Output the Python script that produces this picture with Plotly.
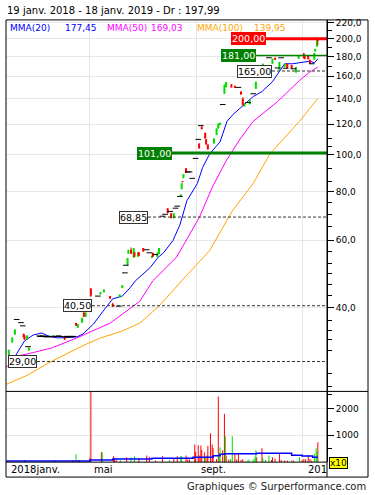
import math
import plotly.graph_objects as go

FIG_W, FIG_H = 375, 495
FONT = "DejaVu Sans"

# ---------------- data ----------------
c_dates = ["2018-01-29", "2018-02-02", "2018-02-05", "2018-02-15", "2018-02-16", "2018-02-19", "2018-02-21",
           "2018-03-21", "2018-04-03", "2018-04-16", "2018-04-18", "2018-04-23", "2018-04-25", "2018-04-27",
           "2018-05-02", "2018-05-03", "2018-05-14", "2018-05-18", "2018-05-25", "2018-05-28", "2018-06-05",
           "2018-06-08", "2018-06-14", "2018-06-15", "2018-06-18", "2018-06-21", "2018-06-22", "2018-06-26",
           "2018-06-27", "2018-07-02", "2018-07-12", "2018-07-13", "2018-07-18", "2018-07-20", "2018-07-30",
           "2018-08-03", "2018-08-06", "2018-08-14", "2018-08-15", "2018-08-16", "2018-08-17", "2018-08-20",
           "2018-09-04", "2018-09-07", "2018-09-11", "2018-09-12", "2018-09-14", "2018-09-21", "2018-09-24",
           "2018-09-26", "2018-09-28", "2018-10-03", "2018-10-05", "2018-10-11", "2018-10-15", "2018-10-22",
           "2018-10-24", "2018-10-26", "2018-11-01", "2018-11-08", "2018-11-16", "2018-11-27", "2018-11-30",
           "2018-12-05", "2018-12-11", "2018-12-14", "2018-12-19", "2018-12-24", "2018-12-27", "2019-01-02",
           "2019-01-03", "2019-01-07", "2019-01-09", "2019-01-14", "2019-01-15", "2019-01-17", "2019-01-18"]
c_open = [30.2, 32.5, 34.1, 34.2, 33.9, 33.1, 31.0, 33.6, 33.6, 36.5,
          35.5, 36.6, 38.9, 37.9, 39.1, 44.9, 43.3, 43.9, 42.9, 41.0,
          42.6, 45.0, 51.6, 55.3, 56.6, 54.0, 55.8, 54.3, 55.8, 57.2,
          53.9, 55.6, 54.3, 55.2, 72.6, 70.4, 68.4, 77.9, 81.3, 85.3,
          86.8, 92.2, 107.0, 118.0, 114.0, 109.6, 106.3, 107.0, 112.5, 117.0,
          119.5, 144.0, 149.8, 152.4, 151.0, 145.9, 139.9, 133.5, 135.2, 148.4,
          167.2, 172.3, 178.6, 166.2, 169.3, 172.3, 171.0, 163.6, 177.5, 183.0,
          180.0, 181.0, 176.4, 176.4, 185.4, 191.0, 200.0]
c_high = [31.1, 33.5, 35.2, 34.3, 33.9, 33.9, 31.5, 34.0, 33.6, 36.6,
          36.3, 37.7, 38.9, 38.9, 40.0, 45.0, 43.9, 44.6, 42.9, 41.2,
          43.3, 45.8, 53.9, 56.6, 57.4, 57.2, 55.8, 55.8, 55.8, 57.2,
          54.6, 55.6, 55.6, 57.2, 72.6, 70.4, 70.4, 78.8, 84.3, 85.3,
          89.0, 92.2, 107.0, 119.0, 114.0, 109.6, 106.3, 110.2, 117.0, 120.6,
          121.0, 152.0, 154.6, 152.4, 151.0, 145.9, 141.0, 136.1, 138.6, 154.7,
          172.3, 177.5, 178.6, 174.2, 172.3, 172.3, 171.0, 169.0, 181.3, 184.0,
          181.0, 181.0, 176.4, 183.7, 188.4, 202.4, 200.5]
c_low = [30.0, 32.5, 34.0, 33.5, 33.0, 33.1, 31.0, 33.6, 33.0, 35.9,
         35.5, 36.6, 37.9, 37.9, 39.1, 42.7, 43.3, 43.9, 42.2, 40.2,
         42.6, 45.0, 51.6, 55.3, 55.3, 54.0, 54.3, 54.3, 54.6, 56.0,
         53.9, 54.3, 54.3, 55.2, 70.4, 68.4, 68.4, 77.9, 81.3, 84.8,
         86.8, 89.6, 103.8, 116.5, 110.2, 106.3, 103.2, 107.0, 112.5, 117.0,
         119.5, 144.0, 149.8, 149.6, 149.0, 143.3, 134.4, 133.5, 135.2, 148.4,
         167.2, 172.3, 176.5, 166.2, 169.3, 168.0, 167.5, 163.6, 177.5, 178.0,
         177.0, 177.0, 172.3, 176.4, 185.4, 191.0, 192.5]
c_close = [31.1, 33.5, 35.1, 33.5, 33.1, 33.9, 31.5, 34.0, 33.1, 35.9,
           36.3, 37.7, 37.9, 38.9, 40.0, 43.0, 43.9, 44.6, 42.2, 40.2,
           43.3, 45.8, 53.9, 56.6, 55.3, 57.2, 54.3, 55.8, 54.6, 56.0,
           54.6, 54.3, 55.6, 57.2, 70.4, 68.4, 70.4, 78.8, 84.3, 84.8,
           89.0, 89.6, 103.8, 116.5, 110.2, 106.3, 103.2, 110.2, 117.0, 120.6,
           121.0, 152.0, 154.6, 149.6, 149.0, 143.3, 134.4, 136.1, 138.6, 154.7,
           172.3, 177.5, 176.5, 174.2, 172.3, 168.0, 167.5, 169.0, 181.3, 178.0,
           177.5, 177.0, 172.3, 183.7, 188.4, 201.0, 197.99]

# unchanged sessions (open = high = low = close), drawn as small black dashes
doji_dates = ["2018-02-07", "2018-02-12", "2018-02-14", "2018-02-20",
              "2018-03-05", "2018-03-06", "2018-03-08", "2018-03-09", "2018-03-12", "2018-03-13",
              "2018-03-15", "2018-03-16", "2018-03-19", "2018-03-23", "2018-03-26", "2018-03-27",
              "2018-03-29", "2018-04-04", "2018-04-05", "2018-04-06", "2018-04-09", "2018-04-10",
              "2018-04-12", "2018-04-13",
              "2018-05-11", "2018-06-04", "2018-06-11", "2018-06-12", "2018-07-06", "2018-07-09",
              "2018-07-16", "2018-07-24", "2018-07-27", "2018-08-02", "2018-08-08", "2018-08-10",
              "2018-08-13", "2018-08-22", "2018-08-24", "2018-08-27", "2018-08-31", "2018-09-03",
              "2018-09-06", "2018-10-01", "2018-10-19", "2018-10-30", "2018-11-05", "2018-11-09",
              "2018-11-23", "2018-12-03", "2018-12-07", "2018-12-12", "2018-12-21", "2019-01-11"]
doji_vals = [37.3, 36.6, 35.9, 31.7,
             33.8, 33.7, 33.7, 33.8, 33.7, 33.6, 33.7, 33.7, 33.6, 33.7,
             33.7, 33.8, 33.7, 33.6, 33.7, 33.7, 33.7, 33.6, 33.7, 33.7,
             42.9, 40.4, 49.3, 51.6, 56.6, 55.6, 55.0, 69.2, 70.0, 71.2,
             72.6, 73.5, 77.9, 90.2, 90.2, 86.8, 97.8, 109.6, 119.0, 135.0,
             149.6, 136.6, 144.0, 161.4, 178.6, 168.0, 178.6, 167.8, 167.2, 172.3]

mma20_dates = ["2018-02-05", "2018-02-07", "2018-02-16", "2018-02-26", "2018-03-08", "2018-03-15", "2018-03-26",
               "2018-04-17", "2018-04-24", "2018-05-06", "2018-05-17", "2018-05-28", "2018-06-08", "2018-06-17",
               "2018-06-23", "2018-07-10", "2018-07-19", "2018-07-25", "2018-08-05", "2018-08-13", "2018-08-21",
               "2018-09-02", "2018-09-08", "2018-09-16", "2018-09-28", "2018-10-06", "2018-10-13", "2018-10-21",
               "2018-11-05", "2018-11-15", "2018-11-27", "2018-12-03", "2018-12-11", "2018-12-20", "2018-12-28",
               "2019-01-09", "2019-01-14", "2019-01-18"]
mma20_vals = [29.6, 30.4, 32.8, 34.0, 34.4, 33.8, 33.4,
              33.6, 34.2, 36.3, 39.2, 42.2, 42.9, 45.1,
              47.0, 50.9, 54.1, 55.5, 59.8, 65.7, 75.9,
              84.2, 92.6, 100.4, 108.0, 122.1, 127.3, 131.9,
              141.6, 145.9, 154.7, 162.1, 172.3, 172.3, 173.2,
              175.0, 173.2, 177.45]

mma50_dates = ["2018-01-26", "2018-02-09", "2018-02-26", "2018-03-20", "2018-04-17", "2018-05-10", "2018-05-25",
               "2018-06-08", "2018-06-28", "2018-07-13", "2018-08-09", "2018-09-04", "2018-09-19", "2018-10-05",
               "2018-10-21", "2018-11-05", "2018-11-18", "2018-12-03", "2018-12-17", "2018-12-28", "2019-01-08",
               "2019-01-18"]
mma50_vals = [28.0, 30.0, 30.6, 31.5, 33.4, 35.2, 36.5,
              38.5, 41.6, 47.0, 54.1, 68.5, 82.2, 96.4,
              109.9, 122.1, 128.9, 137.5, 147.5, 155.9, 163.5,
              169.03]

mma100_dates = ["2018-01-26", "2018-02-19", "2018-03-16", "2018-04-24", "2018-05-14", "2018-06-08", "2018-06-28",
                "2018-07-20", "2018-08-15", "2018-09-16", "2018-10-12", "2018-11-05", "2018-11-24", "2018-12-17",
                "2018-12-28", "2019-01-18"]
mma100_vals = [25.3, 26.7, 28.8, 31.9, 33.4, 34.8, 36.5,
               40.4, 47.0, 56.3, 71.4, 84.2, 100.4, 114.8,
               122.1, 139.95]

# volume (in units of x10)
vol_dn_dates = ["2018-02-16", "2018-03-23", "2018-04-12", "2018-04-19", "2018-05-02", "2018-05-03", "2018-05-15",
                "2018-05-29", "2018-05-30", "2018-06-01", "2018-06-13", "2018-06-27", "2018-07-06", "2018-07-09",
                "2018-07-16", "2018-07-24", "2018-08-06", "2018-08-10", "2018-08-20", "2018-08-22", "2018-08-24",
                "2018-08-30", "2018-08-31", "2018-09-03", "2018-09-04", "2018-09-06", "2018-09-07", "2018-09-10",
                "2018-09-13", "2018-09-14", "2018-09-17", "2018-09-19", "2018-09-20", "2018-09-24", "2018-09-26",
                "2018-10-01", "2018-10-03", "2018-10-05", "2018-10-08", "2018-10-15", "2018-10-17", "2018-10-19",
                "2018-10-22", "2018-10-24", "2018-11-09", "2018-11-15", "2018-11-26", "2018-11-27", "2018-11-30",
                "2018-12-05", "2018-12-07", "2018-12-11", "2018-12-14", "2018-12-21", "2018-12-31", "2019-01-02",
                "2019-01-04", "2019-01-07", "2019-01-09", "2019-01-11", "2019-01-18"]
vol_dn_vals = [70, 50, 60, 80, 150, 3000, 370,
               220, 150, 100, 180, 120, 250, 200,
               60, 220, 120, 220, 250, 100, 90,
               660, 380, 630, 250, 620, 450, 370,
               250, 600, 1070, 660, 520, 120, 2440,
               440, 1800, 250, 100, 330, 100, 300,
               80, 110, 180, 520, 80, 180, 130,
               300, 80, 60, 60, 60, 80, 120,
               100, 260, 120, 60, 740]
vol_up_dates = ["2018-04-16", "2018-04-20", "2018-05-16", "2018-06-06", "2018-06-18", "2018-06-22", "2018-08-01",
                "2018-08-14", "2018-08-15", "2018-09-11", "2018-09-27", "2018-09-28", "2018-10-04", "2018-10-10",
                "2018-10-12", "2018-10-29", "2018-10-31", "2018-11-05", "2018-11-07", "2018-11-08", "2018-11-16",
                "2018-11-19", "2018-11-23", "2018-12-19", "2018-12-28", "2019-01-14", "2019-01-16", "2019-01-17"]
vol_up_vals = [290, 60, 370, 60, 180, 220, 80,
               220, 220, 200, 330, 550, 960, 120,
               960, 60, 100, 100, 180, 440, 150,
               80, 250, 60, 180, 300, 520, 400]

volma_dates = ["2018-01-26", "2018-05-02", "2018-05-28", "2018-07-12", "2018-08-28", "2018-09-20", "2018-09-28",
               "2018-10-03", "2018-11-09", "2018-12-19", "2018-12-31", "2019-01-12", "2019-01-18"]
volma_vals = [45, 80, 115, 145, 185, 240, 290, 310, 335, 260, 230, 180, 180]

levels = [200.0, 181.0, 165.0, 101.0, 68.85, 40.5, 29.0]

price_ticks = [40, 60, 80, 100, 120, 140, 160, 180, 200, 220]
price_minor = [25, 27, 31, 33, 35, 37, 43, 46, 49, 52, 56, 65, 70, 75, 85, 92, 105, 110,
               130, 150, 170, 190, 210]
vol_ticks = [1000, 2000]
vol_minor = [500, 1500, 2500]
month_dates = ["2018-05-01", "2018-09-01", "2019-01-01"]
month_label_dates = ["2018-01-26", "2018-05-01", "2018-09-01", "2019-01-01"]
month_labels = ["2018janv.", "mai", "sept.", "201"]

# ---------------- layout helpers (pixel -> paper) ----------------
def px(p):
    return p / FIG_W


def py(p):
    return 1 - p / FIG_H


def fr(v, n=2):
    return f"{v:.{n}f}".replace(".", ",")


GREEN = "#00dd00"
RED = "#ff0000"

fig = go.Figure()


def segments(dates, a, b):
    xs, ys = [], []
    for d, p, q in zip(dates, a, b):
        xs += [d, d, None]
        ys += [p, q, None]
    return xs, ys


# volume
day_ms = 86400000
fig.add_trace(go.Bar(x=vol_dn_dates, y=vol_dn_vals, width=day_ms * 1.15, marker=dict(color=RED, line=dict(width=0)),
                     xaxis="x2", yaxis="y2"))
fig.add_trace(go.Bar(x=vol_up_dates, y=vol_up_vals, width=day_ms * 1.15, marker=dict(color=GREEN, line=dict(width=0)),
                     xaxis="x2", yaxis="y2"))
fig.add_trace(go.Scatter(x=volma_dates, y=volma_vals, mode="lines", line=dict(color="#0000ff", width=1.5, shape="hv"),
                         xaxis="x2", yaxis="y2"))

# moving averages
fig.add_trace(go.Scatter(x=mma100_dates, y=mma100_vals, mode="lines", line=dict(color="#ffa500", width=1)))
fig.add_trace(go.Scatter(x=mma50_dates, y=mma50_vals, mode="lines", line=dict(color="#ff00ff", width=1)))
fig.add_trace(go.Scatter(x=mma20_dates, y=mma20_vals, mode="lines", line=dict(color="#0000ff", width=1)))

# candles
for want_up, col in ((True, GREEN), (False, RED)):
    idx = [i for i in range(len(c_dates)) if (c_close[i] >= c_open[i]) == want_up]
    d = [c_dates[i] for i in idx]
    wx, wy = segments(d, [c_low[i] for i in idx], [c_high[i] for i in idx])
    bx, by = segments(d, [c_open[i] for i in idx], [c_close[i] for i in idx])
    fig.add_trace(go.Scatter(x=wx, y=wy, mode="lines", line=dict(color=col, width=1)))
    fig.add_trace(go.Scatter(x=bx, y=by, mode="lines", line=dict(color=col, width=2)))

fig.add_trace(go.Scatter(x=doji_dates, y=doji_vals, mode="markers",
                         marker=dict(symbol="line-ew", size=4, line=dict(color="#000000", width=1))))

# ---------------- level lines and labels ----------------
level_style = [
    # (line colour, width, dash, box bg, box border, text colour, line start px)
    ("#ff0000", 3, "solid", "#ff0000", "#ff0000", "#ffffff", 266),
    ("#008000", 1.5, "solid", "#008000", "#008000", "#ffffff", 256),
    ("#333333", 1, "3px,2px", "#ffffff", "#333333", "#000000", 272),
    ("#008000", 3, "solid", "#008000", "#008000", "#ffffff", 172),
    ("#333333", 1, "3px,2px", "#ffffff", "#333333", "#000000", 148),
    ("#333333", 1, "3px,2px", "#ffffff", "#333333", "#000000", 92),
    ("#333333", 1, "3px,2px", "#ffffff", "#333333", "#000000", 37),
]
shapes = []
annotations = []
for lv, (lc, lw, dash, bg, bc, tc, x0) in zip(levels, level_style):
    shapes.append(dict(type="line", xref="paper", yref="y", x0=px(x0), x1=px(327), y0=lv, y1=lv,
                       line=dict(color=lc, width=lw, dash=dash), layer="above"))
    annotations.append(dict(xref="paper", yref="y", x=px(x0), y=math.log10(lv), xanchor="right", yanchor="middle",
                            text=fr(lv), showarrow=False, bgcolor=bg, bordercolor=bc, borderwidth=1, borderpad=0,
                            font=dict(family=FONT, size=9.5, color=tc)))

# frame
line_k = dict(color="#000000", width=1)
shapes += [
    dict(type="rect", xref="paper", yref="paper", x0=px(6), x1=px(368), y0=py(477), y1=py(18), line=line_k),
    dict(type="line", xref="paper", yref="paper", x0=px(327), x1=px(327), y0=py(477), y1=py(18), line=line_k),
    dict(type="line", xref="paper", yref="paper", x0=px(6), x1=px(368), y0=py(391), y1=py(391), line=line_k),
    dict(type="line", xref="paper", yref="paper", x0=px(6), x1=px(327), y0=py(462), y1=py(462), line=line_k),
]

# title, legend, footer, month labels
title = f"19 janv. 2018 - 18 janv. 2019 - Dr : {fr(c_close[-1])}"
annotations.append(dict(xref="paper", yref="paper", x=px(5), y=py(9), xanchor="left", yanchor="middle", text=title,
                        showarrow=False, font=dict(family=FONT, size=10, color="#000000")))
legend_items = [("MMA(20)", mma20_vals[-1], "#0000ff", 8, 63), ("MMA(50)", mma50_vals[-1], "#ff00ff", 105, 149),
                ("MMA(100)", mma100_vals[-1], "#ffa500", 195, 252)]
for name, val, col, xa, xb in legend_items:
    annotations.append(dict(xref="paper", yref="paper", x=px(xa), y=py(26.5), xanchor="left", yanchor="middle",
                            text=name, showarrow=False, font=dict(family=FONT, size=9, color=col)))
    annotations.append(dict(xref="paper", yref="paper", x=px(xb), y=py(26.5), xanchor="left", yanchor="middle",
                            text=fr(val), showarrow=False, font=dict(family=FONT, size=9, color=col)))
for d, t in zip(month_label_dates, month_labels):
    annotations.append(dict(xref="x2", yref="paper", x=d, y=py(469.5), xanchor="left", yanchor="middle", xshift=3,
                            text=t, showarrow=False, font=dict(family=FONT, size=10, color="#000000")))
annotations.append(dict(xref="paper", yref="paper", x=px(338), y=py(462.5), xanchor="center", yanchor="middle",
                        text="x10", showarrow=False, bgcolor="#ffff00", bordercolor="#000000", borderwidth=1,
                        borderpad=0, font=dict(family=FONT, size=9, color="#000000")))
annotations.append(dict(xref="paper", yref="paper", x=px(368), y=py(486.5), xanchor="right", yanchor="middle",
                        text="Graphiques © Surperformance.com", showarrow=False,
                        font=dict(family=FONT, size=10, color="#222222")))

x_range = ["2018-01-25 19:00", "2019-01-28 12:00"]
grid_c = "#e6e6e6"
xaxis_common = dict(type="date", range=x_range, tickmode="array", tickvals=month_dates, showticklabels=False,
                    ticks="", showgrid=True, gridcolor=grid_c, gridwidth=1, zeroline=False, showline=False,
                    domain=[px(6), px(327)])

fig.update_layout(
    width=FIG_W, height=FIG_H, autosize=False,
    margin=dict(l=0, r=0, t=0, b=0, pad=0),
    paper_bgcolor="#ffffff", plot_bgcolor="#ffffff",
    showlegend=False, hovermode=False, barmode="overlay",
    font=dict(family=FONT, size=9, color="#000000"),
    xaxis=dict(anchor="y", **xaxis_common),
    xaxis2=dict(anchor="y2", matches="x", **xaxis_common),
    yaxis=dict(type="log", domain=[py(391), py(18)], range=[math.log10(24.25), math.log10(224.0)],
               side="right", anchor="x", tickmode="array", tickvals=price_ticks,
               ticktext=[fr(v, 1) for v in price_ticks], ticks="outside", ticklen=6, tickwidth=1,
               tickcolor="#000000", showline=True, linecolor="#000000", linewidth=1, showgrid=True,
               gridcolor=grid_c, zeroline=False, tickfont=dict(family=FONT, size=9, color="#000000"),
               minor=dict(tickmode="array", tickvals=price_minor, ticks="outside", ticklen=4,
                          tickcolor="#000000", showgrid=False)),
    yaxis2=dict(domain=[py(462), py(391)], range=[0, 2630], side="right", anchor="x2", tickmode="array",
                tickvals=vol_ticks, ticktext=[str(v) for v in vol_ticks], ticks="outside", ticklen=6,
                tickwidth=1, tickcolor="#000000", showline=True, linecolor="#000000", linewidth=1,
                showgrid=True, gridcolor=grid_c, zeroline=False,
                tickfont=dict(family=FONT, size=9, color="#000000"),
                minor=dict(tickmode="array", tickvals=vol_minor, ticks="outside", ticklen=4,
                           tickcolor="#000000", showgrid=False)),
    shapes=shapes,
    annotations=annotations,
)

fig.write_html("out.html", config={"displayModeBar": False, "staticPlot": True},
               post_script="document.body.style.margin='0px';document.body.style.overflow='hidden';")
